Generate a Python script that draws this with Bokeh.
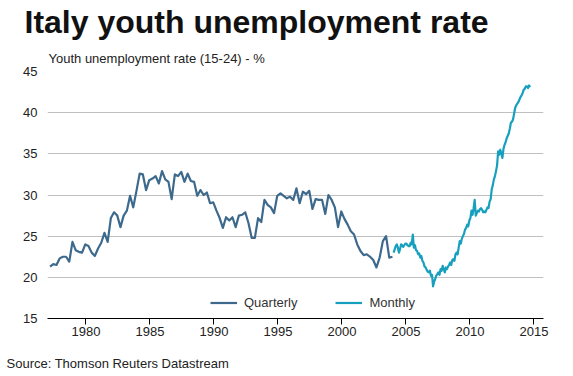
from bokeh.plotting import figure
from bokeh.models import (Range1d, FixedTicker, Title, Legend, LegendItem)
from bokeh.embed import file_html
from bokeh.resources import INLINE

# ---------------- data ----------------
title_text = "Italy youth unemployment rate"
subtitle_text = "Youth unemployment rate (15-24) - %"
source_text = "Source: Thomson Reuters Datastream"

quarterly_start = 1977.2   # decimal year of first quarterly observation
quarterly_step = 0.25
quarterly_values = [
    21.3, 21.6, 21.5, 22.3,   # 1977
    22.5, 22.5, 21.9, 24.3,   # 1978
    23.3, 23.1, 23.0, 24.0,   # 1979
    23.8, 23.0, 22.6, 23.5,   # 1980
    24.2, 25.4, 24.3, 27.2,   # 1981
    27.9, 27.5, 26.1, 27.5,   # 1982
    28.1, 29.9, 28.5, 30.5,   # 1983
    32.6, 32.5, 30.6, 31.8,   # 1984
    32.0, 32.3, 31.4, 32.9,   # 1985
    31.9, 31.6, 29.5, 32.5,   # 1986
    32.3, 32.8, 31.6, 32.6,   # 1987
    31.7, 31.6, 29.9, 30.6,   # 1988
    30.0, 30.3, 29.0, 29.1,   # 1989
    28.1, 27.2, 26.0, 27.3,   # 1990
    26.9, 27.3, 26.1, 27.5,   # 1991
    27.6, 27.9, 26.6, 24.8,   # 1992
    24.8, 27.2, 26.7, 29.4,   # 1993
    28.8, 28.5, 27.8, 29.9,   # 1994
    30.2, 29.9, 29.6, 29.8,   # 1995
    29.4, 30.8, 29.0, 30.4,   # 1996
    30.1, 30.5, 28.3, 29.5,   # 1997
    29.4, 29.4, 27.7, 30.0,   # 1998
    29.4, 28.5, 26.1, 28.0,   # 1999
    27.1, 26.4, 25.6, 25.2,   # 2000
    24.0, 23.2, 22.7, 22.8,   # 2001
    22.5, 22.1, 21.2, 22.4,   # 2002
    24.4, 25.0, 22.4, 22.5,   # 2003
]

monthly_start = 2004.04
monthly_step = 1.0 / 12.0
monthly_values = [
    23.0, 23.4, 23.8, 24.0, 23.6, 23.0, 23.4, 24.0, 23.9, 23.7, 23.9, 24.1,  # 2004
    24.1, 23.9, 23.8, 23.8, 24.2, 24.0, 25.2, 23.6, 23.9, 23.3, 23.2, 22.8,  # 2005
    22.9, 22.4, 22.6, 22.0, 21.8, 21.3, 21.2, 20.9, 20.7, 20.6, 20.8, 20.2,  # 2006
    20.3, 18.9, 19.5, 19.8, 20.2, 20.4, 20.6, 20.3, 21.0, 20.8, 21.4, 21.0,  # 2007
    20.6, 21.2, 21.0, 21.3, 21.5, 21.8, 21.5, 22.1, 22.2, 22.0, 22.8, 23.0,  # 2008
    22.8, 23.6, 24.4, 24.1, 24.7, 25.0, 25.3, 25.8, 26.0, 26.4, 26.2, 26.9,  # 2009
    27.2, 28.1, 27.6, 28.4, 29.4, 27.5, 27.8, 28.1, 28.0, 28.3, 28.4, 28.2,  # 2010
    27.9, 28.0, 27.9, 28.2, 28.5, 28.4, 29.2, 29.5, 30.7, 31.2, 31.9, 32.3,  # 2011
    32.9, 33.6, 35.3, 34.9, 35.5, 35.0, 34.5, 35.6, 36.1, 36.4, 36.9, 37.2,  # 2012
    37.5, 38.1, 38.8, 38.9, 39.2, 39.9, 40.6, 40.9, 41.1, 41.3, 41.6, 41.9,  # 2013
    42.1, 42.4, 42.8, 42.9, 43.2, 43.2, 43.0, 43.3, 43.1,                    # 2014
]

y_ticks = [15, 20, 25, 30, 35, 40, 45]
grid_ticks = [20, 25, 30, 35, 40, 45]
x_ticks = [1980, 1985, 1990, 1995, 2000, 2005, 2010, 2015]
series_labels = ["Quarterly", "Monthly"]

# ---------------- plot ----------------
FONT = "Liberation Sans"
Q_COLOR = "#3d6a8c"
M_COLOR = "#17a0be"

q_x = [quarterly_start + i * quarterly_step for i in range(len(quarterly_values))]
m_x = [monthly_start + i * monthly_step for i in range(len(monthly_values))]

p = figure(width=573, height=376, output_backend="svg", toolbar_location=None,
           title=None,
           x_range=Range1d(1977.0, 2015.75), y_range=Range1d(15, 45),
           min_border_left=47, min_border_right=30,
           min_border_top=70, min_border_bottom=58)
p.outline_line_color = None
p.background_fill_color = "white"
p.border_fill_color = "white"

r_q = p.line(q_x, quarterly_values, line_color=Q_COLOR, line_width=2.2, line_join="round")
r_m = p.line(m_x, monthly_values, line_color=M_COLOR, line_width=2.2, line_join="round")

# axes
p.xaxis.ticker = FixedTicker(ticks=x_ticks)
p.xaxis.minor_tick_line_color = None
p.xaxis.major_tick_in = 0
p.xaxis.major_tick_out = 6
p.xaxis.major_tick_line_color = "black"
p.xaxis.axis_line_color = "black"
p.xaxis.major_label_text_font = FONT
p.xaxis.major_label_text_font_size = "13px"
p.xaxis.major_label_text_color = "#222222"
p.xaxis.major_label_standoff = 2

p.yaxis.ticker = FixedTicker(ticks=y_ticks)
p.yaxis.minor_tick_line_color = None
p.yaxis.major_tick_line_color = None
p.yaxis.major_tick_in = 0
p.yaxis.major_tick_out = 0
p.yaxis.axis_line_color = None
p.yaxis.major_label_text_font = FONT
p.yaxis.major_label_text_font_size = "13px"
p.yaxis.major_label_text_color = "#222222"
p.yaxis.major_label_standoff = 10

p.xgrid.grid_line_color = None
p.ygrid.ticker = FixedTicker(ticks=grid_ticks)
p.ygrid.grid_line_color = "#c0c0c0"
p.ygrid.grid_line_width = 1

# legend
legend = Legend(items=[LegendItem(label=series_labels[0], renderers=[r_q]),
                       LegendItem(label=series_labels[1], renderers=[r_m])],
                orientation="horizontal", location=(163, 8),
                padding=0, margin=0, spacing=38,
                glyph_width=27, glyph_height=13, label_height=13,
                label_standoff=7,
                label_text_font=FONT, label_text_font_size="13px",
                label_text_color="#333333",
                background_fill_alpha=0, border_line_color=None)
p.add_layout(legend, "center")

# titles above the frame (first added = nearest to the frame)
p.add_layout(Title(text=subtitle_text, text_font=FONT, text_font_size="13px",
                   text_font_style="normal", text_color="#222222",
                   align="left", offset=1, vertical_align="bottom",
                   standoff=11.5), "above")
p.add_layout(Title(text=title_text, text_font=FONT, text_font_size="32px",
                   text_font_style="bold", text_color="#111111",
                   align="left", offset=-23, vertical_align="bottom",
                   standoff=4.3), "above")

# below the x axis: a blank spacer, then the source line
p.add_layout(Title(text=" ", text_font=FONT, text_font_size="8px",
                   standoff=1), "below")
p.add_layout(Title(text=source_text, text_font=FONT, text_font_size="13px",
                   text_font_style="normal", text_color="#222222",
                   align="left", offset=-41, vertical_align="bottom",
                   standoff=6.5), "below")

open("out.html", "w").write(file_html(p, INLINE))
